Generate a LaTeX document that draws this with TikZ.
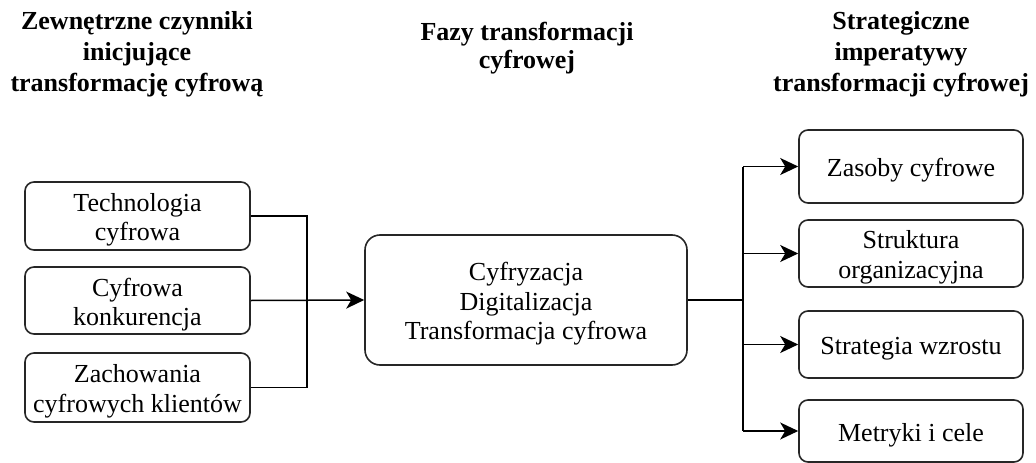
\documentclass[tikz,border=0pt]{standalone}
\usepackage{fontspec}
\setmainfont{Liberation Serif}
\usetikzlibrary{arrows.meta}
\begin{document}
\begin{tikzpicture}[x=1pt,y=-1pt,
  box/.style={draw=black!85, line width=1.6pt, rounded corners=9pt, inner sep=0pt},
  boxtext/.style={label={[align=center, inner sep=0pt, yshift=-4pt,
    font=\fontsize{26}{29.5}\selectfont, text=black]center:#1}},
  heading/.style={align=center, inner sep=0pt, anchor=north,
    font=\fontsize{26}{31}\selectfont\bfseries},
  link/.style={draw=black, line width=1.5pt},
  arr/.style={link, -{Stealth[length=18pt,width=17pt,inset=5pt]}},
]
\useasboundingbox (0,0) rectangle (1036,463);

% column headings
\node[heading] (hleft) at (137,11) {Zewnętrzne czynniki\\inicjujące\\transformację cyfrową};
\node[heading, font=\fontsize{26}{28}\selectfont\bfseries] (hmid) at (527,22) {Fazy transformacji\\cyfrowej};
\node[heading] (hright) at (901,11) {Strategiczne\\imperatywy\\transformacji cyfrowej};

% external factors
\node[box, minimum width=225pt, minimum height=68pt, boxtext={Technologia\\cyfrowa}] (f1) at (137.5,216) {};
\node[box, minimum width=225pt, minimum height=67pt, boxtext={Cyfrowa\\konkurencja}] (f2) at (137.5,300.5) {};
\node[box, minimum width=225pt, minimum height=69pt, boxtext={Zachowania\\cyfrowych klientów}] (f3) at (137.5,387.5) {};

% transformation phases
\node[box, rounded corners=15pt, minimum width=322pt, minimum height=130pt,
  boxtext={Cyfryzacja\\Digitalizacja\\Transformacja cyfrowa}] (mid) at (526,300) {};

% strategic imperatives
\node[box, minimum width=224pt, minimum height=73pt, boxtext={Zasoby cyfrowe}] (r1) at (911,166.5) {};
\node[box, minimum width=224pt, minimum height=67pt, boxtext={Struktura\\organizacyjna}] (r2) at (911,253.5) {};
\node[box, minimum width=224pt, minimum height=67pt, boxtext={Strategia wzrostu}] (r3) at (911,344.5) {};
\node[box, minimum width=224pt, minimum height=62pt, boxtext={Metryki i cele}] (r4) at (911,431) {};

% incoming connectors
\coordinate (join) at (307,300);
\draw[link] (f1.east) -| (join) |- (f3.east);
\draw[arr] (f2.east) -- (mid.west);

% outgoing connectors
\coordinate (split) at (743,300);
\draw[link, line width=2.6pt] (mid.east) -- (split);
\draw[link] (split |- r1.west) -- (split |- r4.west);
\draw[arr] (split |- r1.west) -- (r1.west);
\draw[arr] (split |- r2.west) -- (r2.west);
\draw[arr] (split |- r3.west) -- (r3.west);
\draw[arr] (split |- r4.west) -- (r4.west);
\end{tikzpicture}
\end{document}
